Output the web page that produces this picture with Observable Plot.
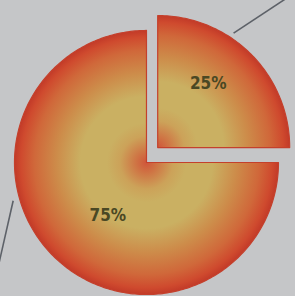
<!DOCTYPE html>
<html><head><meta charset="utf-8">
<script src="https://cdn.jsdelivr.net/npm/d3@7"></script>
<script src="https://cdn.jsdelivr.net/npm/@observablehq/plot@0.6"></script>
<style>
html,body{margin:0;padding:0;background:#c5c6c8;overflow:hidden}
</style>
</head><body>
<div id="chart"></div>
<script>
// data
const categories = ["A", "B"];
const values = [25, 75];
const labels = ["25%", "75%"];
const exploded = [true, false];

// pie geometry (unit radius); start at 12 o'clock, clockwise
const W = 295, H = 296;
const pie = d3.pie().sort(null).startAngle(0).endAngle(2 * Math.PI)(values);
const explodeOffset = {x: 0.085, y: 0.113};
const slices = pie.map((p, i) => {
  const ox = exploded[i] ? explodeOffset.x : 0;
  const oy = exploded[i] ? explodeOffset.y : 0;
  const pts = [{slice: categories[i], x: ox, y: oy}];
  const n = Math.max(8, Math.round((p.endAngle - p.startAngle) / (Math.PI / 180)));
  for (let k = 0; k <= n; k++) {
    const a = p.startAngle + (p.endAngle - p.startAngle) * k / n;
    pts.push({slice: categories[i], x: ox + Math.sin(a), y: oy + Math.cos(a)});
  }
  pts.push({slice: categories[i], x: ox, y: oy});
  const mid = (p.startAngle + p.endAngle) / 2;
  const lr = exploded[i] ? 0.62 : 0.5;
  const la = exploded[i] ? mid - 0.12 : mid - 0.16;
  return {pts, cx: ox, cy: oy, label: labels[i],
          lx: ox + lr * Math.sin(la), ly: oy + lr * Math.cos(la), id: "g" + i};
});

// decorative leader lines (unit coords)
const leaderLines = [
  {x1: 0.66, y1: 0.98, x2: 1.10, y2: 1.27},
  {x1: -1.01, y1: -0.29, x2: -1.16, y2: -0.95}
];

const marks = [
  Plot.link(leaderLines, {x1: "x1", y1: "y1", x2: "x2", y2: "y2", stroke: "#5d6168", strokeWidth: 1.6}),
  ...slices.map(s => Plot.line(s.pts, {x: "x", y: "y", fill: `url(#${s.id})`, stroke: "#c4402c", strokeWidth: 1.2, curve: "linear"})),
  Plot.text(slices, {x: "lx", y: "ly", text: "label", fill: "#4a4824", fontSize: 17, fontWeight: "bold",
    fontFamily: "DejaVu Sans Condensed, DejaVu Sans, sans-serif"})
];

const plot = Plot.plot({
  width: W, height: H, margin: 0,
  x: {domain: [-1.106, 1.129], range: [0, W], axis: null},
  y: {domain: [-1.015, 1.227], range: [H, 0], axis: null},
  style: {background: "transparent", overflow: "visible"},
  marks
});

// radial gradients centered on each slice's apex
const xs = plot.scale("x"), ys = plot.scale("y");
const rpx = xs.apply(1) - xs.apply(0);
const defs = d3.create("svg:defs");
slices.forEach(s => {
  const g = defs.append("radialGradient").attr("id", s.id).attr("gradientUnits", "userSpaceOnUse")
    .attr("cx", xs.apply(s.cx)).attr("cy", ys.apply(s.cy)).attr("r", rpx);
  [[0, "#d0553a"], [0.08, "#cf7444"], [0.2, "#cca259"], [0.3, "#cab062"], [0.5, "#cab062"],
   [0.68, "#cd8c4a"], [0.85, "#d0683a"], [0.95, "#cf4a2e"], [1, "#c23a28"]].forEach(([o, c]) =>
    g.append("stop").attr("offset", o).attr("stop-color", c));
});
plot.insertBefore(defs.node(), plot.firstChild);
document.getElementById("chart").appendChild(plot);
</script>
</body></html>
